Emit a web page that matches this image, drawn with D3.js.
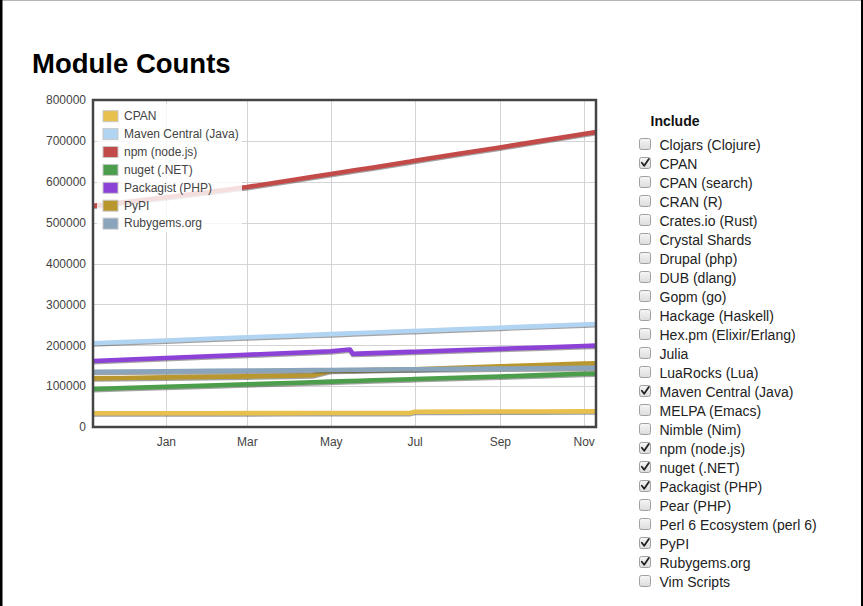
<!DOCTYPE html>
<html>
<head>
<meta charset="utf-8">
<script src="https://cdn.jsdelivr.net/npm/d3@7"></script>
<style>
  html, body { margin: 0; padding: 0; background: #fff; }
  svg { display: block; font-family: "Liberation Sans", Arial, sans-serif; }
</style>
</head>
<body>
<svg id="chart" width="863" height="606"></svg>
<script>
// ---- data ----
const dates = ["2017-11-09","2017-12-01","2018-01-01","2018-02-01","2018-03-01","2018-04-01","2018-04-18","2018-05-01","2018-05-15","2018-05-17","2018-06-01","2018-06-28","2018-07-01","2018-08-01","2018-09-01","2018-10-01","2018-11-01","2018-11-10"];

const cpan      = [33500,33600,33700,33800,33900,34000,34100,34100,34200,34200,34300,34400,37400,37600,37800,38000,38300,38400];
const maven     = [205000,207800,211800,215800,219400,223400,225500,227200,229000,229300,231200,234700,235000,239000,243000,246900,250800,252000];
const npm       = [541000,550000,562000,575000,587000,603000,612000,619000,626500,627500,635000,649500,651500,668000,684000,700000,717000,721500];
const nuget     = [93000,95300,98500,101700,104600,107800,109600,111000,112400,112600,114200,117000,117300,120500,123700,126800,130100,131000];
const packagist = [161500,164500,168800,173000,176800,181100,183400,185200,189500,179000,180700,183800,184100,187600,191200,194600,198000,199000];
const pypi      = [119000,120000,121300,122600,123800,125200,126500,137500,138300,138400,139200,141000,141300,144800,148300,151600,155000,156000];
const rubygems  = [135000,135600,136400,137300,138100,138900,139200,139600,140000,140000,140400,141100,141200,142100,142900,143700,144600,145000];

const seriesNames  = ["CPAN","Maven Central (Java)","npm (node.js)","nuget (.NET)","Packagist (PHP)","PyPI","Rubygems.org"];
const seriesValues = [cpan, maven, npm, nuget, packagist, pypi, rubygems];
const seriesColors = ["#e8c04e","#b0d4f1","#c24b4a","#4c9e4c","#8c42d6","#b8972f","#8aa4bc"];

const yTicks = [0,100000,200000,300000,400000,500000,600000,700000,800000];
const xDomain = ["2017-11-09","2018-11-10"];

const includeItems = ["Clojars (Clojure)","CPAN","CPAN (search)","CRAN (R)","Crates.io (Rust)","Crystal Shards","Drupal (php)","DUB (dlang)","Gopm (go)","Hackage (Haskell)","Hex.pm (Elixir/Erlang)","Julia","LuaRocks (Lua)","Maven Central (Java)","MELPA (Emacs)","Nimble (Nim)","npm (node.js)","nuget (.NET)","Packagist (PHP)","Pear (PHP)","Perl 6 Ecosystem (perl 6)","PyPI","Rubygems.org","Vim Scripts"];
const includeChecked = ["CPAN","Maven Central (Java)","npm (node.js)","nuget (.NET)","Packagist (PHP)","PyPI","Rubygems.org"];

// ---- drawing ----
const svg = d3.select("#chart");
const W = 863, H = 606;
const plot = {left: 93, right: 596, top: 100, bottom: 427};

// page borders
svg.append("line").attr("x1",0).attr("x2",W).attr("y1",0.5).attr("y2",0.5).attr("stroke","#b5b5b5").attr("stroke-width",1);
svg.append("rect").attr("x",0).attr("y",0).attr("width",2.5).attr("height",H).attr("fill","#000");
svg.append("rect").attr("x",861).attr("y",0).attr("width",2).attr("height",H).attr("fill","#000");

// title
svg.append("text").attr("x",32).attr("y",73).attr("font-size","27.5px").attr("font-weight","bold").attr("fill","#000").text("Module Counts");

const parse = d3.utcParse("%Y-%m-%d");
const x = d3.scaleUtc().domain(xDomain.map(parse)).range([plot.left, plot.right]);
const y = d3.scaleLinear().domain([0, 800000]).range([plot.bottom, plot.top]);

// grid
const xTickVals = x.ticks(d3.utcMonth.every(2));
svg.append("g").selectAll("line").data(yTicks).join("line")
  .attr("x1",plot.left).attr("x2",plot.right)
  .attr("y1",d=>Math.round(y(d))+0.5).attr("y2",d=>Math.round(y(d))+0.5)
  .attr("stroke","#d4d4d4").attr("stroke-width",1);
svg.append("g").selectAll("line").data(xTickVals).join("line")
  .attr("x1",d=>Math.round(x(d))+0.5).attr("x2",d=>Math.round(x(d))+0.5)
  .attr("y1",plot.top).attr("y2",plot.bottom)
  .attr("stroke","#d4d4d4").attr("stroke-width",1);

// axes labels via d3 axes
const yAxis = svg.append("g").attr("transform",`translate(${plot.left},0)`)
  .call(d3.axisLeft(y).tickValues(yTicks).tickFormat(d3.format("d")).tickSize(0).tickPadding(7));
yAxis.select(".domain").remove();
yAxis.selectAll("text").attr("font-size","12px").attr("fill","#444").attr("font-family","Liberation Sans, Arial, sans-serif");

const xAxis = svg.append("g").attr("transform",`translate(0,${plot.bottom})`)
  .call(d3.axisBottom(x).ticks(d3.utcMonth.every(2)).tickFormat(d3.utcFormat("%b")).tickSize(0).tickPadding(10));
xAxis.select(".domain").remove();
xAxis.selectAll("text").attr("font-size","12px").attr("fill","#444").attr("font-family","Liberation Sans, Arial, sans-serif");

// lines
svg.append("clipPath").attr("id","plotclip").append("rect")
  .attr("x",plot.left).attr("y",plot.top).attr("width",plot.right-plot.left).attr("height",plot.bottom-plot.top);

const dateObjs = dates.map(parse);
const line = d3.line().x((d,i)=>x(dateObjs[i])).y(d=>y(d));
const gLines = svg.append("g").attr("clip-path","url(#plotclip)");
seriesValues.forEach((vals, k) => {
  gLines.append("path").attr("d", line(vals)).attr("fill","none")
    .attr("stroke","rgba(50,50,50,0.45)").attr("stroke-width",3.8)
    .attr("stroke-linejoin","round").attr("transform","translate(0,1.6)");
  gLines.append("path").attr("d", line(vals)).attr("fill","none")
    .attr("stroke", seriesColors[k]).attr("stroke-width",4.6)
    .attr("stroke-linejoin","round");
});

// frame
svg.append("rect").attr("x",plot.left).attr("y",plot.top)
  .attr("width",plot.right-plot.left).attr("height",plot.bottom-plot.top)
  .attr("fill","none").attr("stroke","#444").attr("stroke-width",2.5);

// legend
const leg = svg.append("g");
leg.append("rect").attr("x",97).attr("y",104).attr("width",145).attr("height",128)
  .attr("fill","#fff").attr("fill-opacity",0.82);
seriesNames.forEach((name, i) => {
  const yy = 110.7 + i*17.9;
  leg.append("rect").attr("x",103).attr("y",yy).attr("width",15).attr("height",11)
    .attr("fill",seriesColors[i]).attr("stroke","#c8c8c8").attr("stroke-width",1);
  leg.append("text").attr("x",124).attr("y",yy+9.3).attr("font-size","12px").attr("fill","#444").text(name);
});

// include panel
svg.append("text").attr("x",650.5).attr("y",126).attr("font-size","14px").attr("font-weight","bold").attr("fill","#111").text("Include");
const grad = svg.append("defs").append("linearGradient").attr("id","cbg").attr("x1",0).attr("y1",0).attr("x2",0).attr("y2",1);
grad.append("stop").attr("offset","0%").attr("stop-color","#f6f6f6");
grad.append("stop").attr("offset","100%").attr("stop-color","#dcdcdc");
const inc = svg.append("g");
includeItems.forEach((name, i) => {
  const base = 150 + i*19;
  inc.append("rect").attr("x",639.5).attr("y",base-11.5).attr("width",11).attr("height",11).attr("rx",2)
    .attr("fill","url(#cbg)").attr("stroke","#a0a0a0").attr("stroke-width",1);
  if (includeChecked.includes(name)) {
    inc.append("path").attr("d",`M${641.8},${base-6.2} L${644.2},${base-3.2} L${648.8},${base-10}`)
      .attr("fill","none").attr("stroke","#222").attr("stroke-width",1.8).attr("stroke-linecap","round").attr("stroke-linejoin","round");
  }
  inc.append("text").attr("x",659.5).attr("y",base).attr("font-size","14px").attr("fill","#222").text(name);
});
</script>
</body>
</html>
